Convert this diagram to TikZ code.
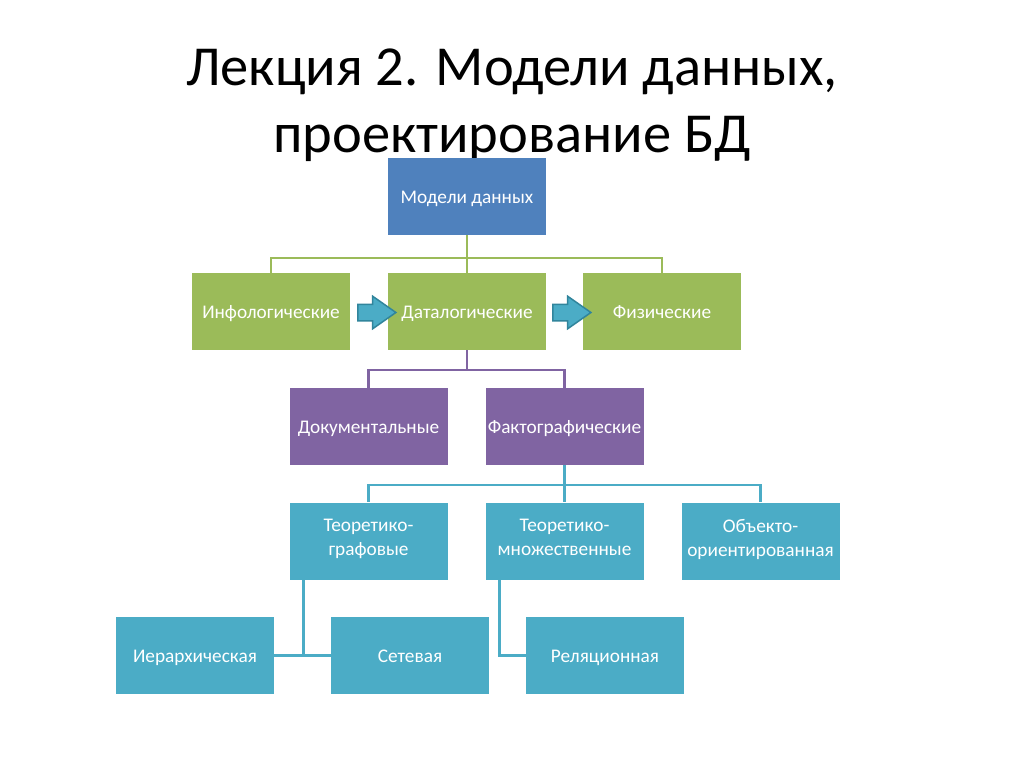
\documentclass[tikz,border=0pt]{standalone}
\usepackage{fontspec}
\setmainfont{Carlito}
\usetikzlibrary{shapes.arrows,calc}
\definecolor{cblue}{HTML}{4F81BD}
\definecolor{cgreen}{HTML}{9BBB59}
\definecolor{cpurple}{HTML}{8064A2}
\definecolor{cteal}{HTML}{4BACC6}
\definecolor{carrowb}{HTML}{31859C}
\def\bxh{27.2pt}
\newcommand\boxbeg{\rule[-6.8pt]{0pt}{\bxh}}
\newcommand\boxend{\rule[-6.8pt]{0pt}{6.8pt}}
\tikzset{
  box/.style={rectangle, minimum width=158pt, minimum height=77pt, inner xsep=1pt, inner ysep=0pt,
    text=white, align=center, font=\fontsize{19.3}{24}\selectfont,
    execute at begin node=\boxbeg, execute at end node=\boxend},
  twoline/.style={font=\fontsize{19.3}{24}\selectfont\def\bxh{19.2pt}},
  gline/.style={draw=cgreen, line width=2.4pt},
  pline/.style={draw=cpurple, line width=2.4pt},
  tline/.style={draw=cteal, line width=2.4pt},
  barrow/.style={single arrow, fill=cteal, draw=carrowb, line width=1.5pt,
    minimum height=38pt, inner xsep=0pt, inner ysep=7.5pt,
    single arrow head extend=8pt, single arrow tip angle=70},
}
\begin{document}
\begin{tikzpicture}[x=1pt,y=-1pt]
\useasboundingbox (0,0) rectangle (1024,768);
\fill[white] (0,0) rectangle (1024,768);
\node[font=\fontsize{56.5}{67}\selectfont, align=center] (title) at (512,105)
  {Лекция 2. Модели данных,\\проектирование БД};
\node[box, fill=cblue] (md) at (467,196.5) {Модели данных};
\node[box, fill=cgreen] (inf) at (271,311.5) {Инфологические};
\node[box, fill=cgreen] (dat) at (467,311.5) {Даталогические};
\node[box, fill=cgreen] (fiz) at (662,311.5) {Физические};
\node[box, fill=cpurple] (doc) at (368.5,426.5) {Документальные};
\node[box, fill=cpurple] (fact) at (564.5,426.5) {Фактографические};
\node[box, twoline, fill=cteal] (tg) at (368.5,541) {Теоретико-\\графовые};
\node[box, twoline, fill=cteal] (tm) at (564.5,541) {Теоретико-\\множественные};
\node[box, twoline, fill=cteal] (oo) at (760.5,541) {Объекто-\\ориентированная};
\node[box, fill=cteal] (ier) at (195,655.5) {Иерархическая};
\node[box, fill=cteal] (set) at (410,655.5) {Сетевая};
\node[box, fill=cteal] (rel) at (605,655.5) {Реляционная};
\draw[gline] (md.south) -- ++(0,23) coordinate (g1);
\draw[gline] (g1) -| (inf.north);
\draw[gline] (g1) -| (fiz.north);
\draw[gline] (g1) -- (dat.north);
\draw[pline] (dat.south) -- ++(0,20) coordinate (p1);
\draw[pline] (p1) -| (doc.north);
\draw[pline] (p1) -| (fact.north);
\draw[tline] (fact.south) -- ++(0,20) coordinate (t1);
\draw[tline] (t1) -| (tg.north);
\draw[tline] (t1) -| (oo.north);
\draw[tline] (t1) -- (tm.north);
\draw[tline] ([xshift=14pt]tg.south west) coordinate (t2) |- (ier.east);
\draw[tline] (ier.east) -- (set.west);
\draw[tline] ([xshift=14pt]tm.south west) coordinate (t3) |- (rel.west);
\node[barrow] (ar1) at (371,312.5) {};
\node[barrow] (ar2) at (566,312.5) {};
\end{tikzpicture}
\end{document}
